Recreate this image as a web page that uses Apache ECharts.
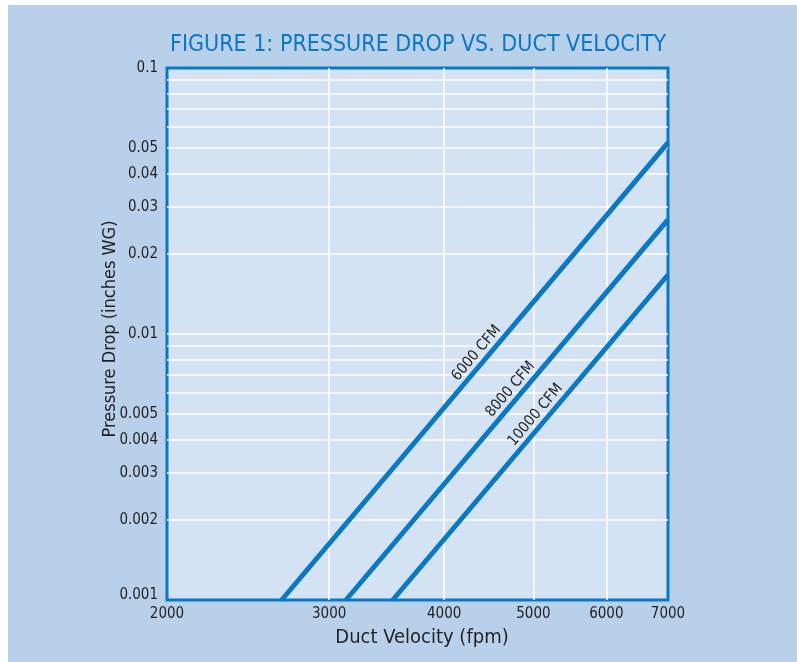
<!DOCTYPE html>
<html><head><meta charset="utf-8">
<script src="https://cdn.jsdelivr.net/npm/echarts@6/dist/echarts.min.js"></script>
<style>
html,body{margin:0;padding:0;background:#fff;}
#c{position:absolute;left:8px;top:5px;width:789px;height:657px;background:#b9d0ea;}
</style></head><body><div id="c"></div>
<script>
// ---- data ----
const titleText = 'FIGURE 1: PRESSURE DROP VS. DUCT VELOCITY';
const xAxisName = 'Duct Velocity (fpm)';
const yAxisName = 'Pressure Drop (inches WG)';
const seriesNames = ['6000 CFM', '8000 CFM', '10000 CFM'];
const velocity6000 = [2664, 7000];
const pressure6000 = [0.001, 0.0524];
const velocity8000 = [3129, 7000];
const pressure8000 = [0.001, 0.0269];
const velocity10000 = [3517, 7000];
const pressure10000 = [0.001, 0.0167];
const labelSpot = [0.525, 0.536, 0.548];   // where along each line its name sits (fraction)
const xTickLabels = [2000, 3000, 4000, 5000, 6000, 7000];
const xGridValues = [3000, 4000, 5000, 6000];
const yTickLabels = [0.001, 0.002, 0.003, 0.004, 0.005, 0.01, 0.02, 0.03, 0.04, 0.05, 0.1];
const yGridValues = [0.002, 0.003, 0.004, 0.005, 0.006, 0.007, 0.008, 0.009,
                     0.01, 0.02, 0.03, 0.04, 0.05, 0.06, 0.07, 0.08, 0.09];
const xRange = [2000, 7000];
const yRange = [0.001, 0.1];

// ---- build ----
const L = Math.log10;
const FONT = "'Liberation Sans Narrow', 'DejaVu Sans Condensed', 'Liberation Sans', sans-serif";
const BLUE = '#0a78c2';
const TXT = '#231f20';
const velocities = [velocity6000, velocity8000, velocity10000];
const pressures = [pressure6000, pressure8000, pressure10000];

const series = seriesNames.map((name, i) => {
  const pts = velocities[i].map((v, j) => [L(v), L(pressures[i][j])]);
  const a = pts[0], b = pts[pts.length - 1];
  const s = 2 * labelSpot[i] - 1;  // start of label segment so its middle is at labelSpot
  const segStart = [a[0] + (b[0] - a[0]) * s, a[1] + (b[1] - a[1]) * s];
  return {
    name: name,
    type: 'line',
    data: pts,
    symbol: 'none',
    silent: true,
    lineStyle: { color: BLUE, width: 5 },
    z: 5,
    markLine: {
      silent: true,
      symbol: 'none',
      lineStyle: { color: 'rgba(0,0,0,0)', width: 1 },
      label: {
        show: true, position: 'insideMiddleTop', formatter: name,
        color: TXT, fontFamily: FONT, fontSize: 15, distance: 3
      },
      data: [[{ coord: segStart }, { coord: b }]]
    }
  };
});

const chart = echarts.init(document.getElementById('c'));
chart.setOption({
  animation: false,
  backgroundColor: 'transparent',
  title: {
    text: titleText, left: 162, top: 29, padding: 0,
    textStyle: { color: BLUE, fontFamily: FONT, fontSize: 23, fontWeight: 'normal' }
  },
  grid: {
    left: 159, top: 63, width: 501, height: 532,
    show: true, backgroundColor: '#d3e3f3', borderColor: BLUE, borderWidth: 3,
    containLabel: false
  },
  xAxis: {
    type: 'value', min: L(xRange[0]), max: L(xRange[1]),
    name: xAxisName, nameLocation: 'middle', nameGap: 28, nameMoveOverlap: false,
    nameTextStyle: { color: TXT, fontFamily: FONT, fontSize: 20, padding: [0, 0, 0, 9] },
    axisLine: { show: false },
    axisTick: { show: false, customValues: xGridValues.map(L) },
    axisLabel: {
      customValues: xTickLabels.map(L), margin: 7,
      color: TXT, fontFamily: FONT, fontSize: 15,
      formatter: v => String(Math.round(Math.pow(10, v) / 100) * 100)
    },
    splitLine: { show: true, lineStyle: { color: '#ffffff', width: 1.5 } }
  },
  yAxis: {
    type: 'value', min: L(yRange[0]), max: L(yRange[1]),
    name: yAxisName, nameLocation: 'middle', nameGap: 48, nameRotate: 90, nameMoveOverlap: false,
    nameTextStyle: { color: TXT, fontFamily: FONT, fontSize: 18, padding: [0, 0, 0, 10] },
    axisLine: { show: false },
    axisTick: { show: false, customValues: yGridValues.map(L) },
    axisLabel: {
      customValues: yTickLabels.map(L), margin: 9,
      color: TXT, fontFamily: FONT, fontSize: 15,
      formatter: v => {
        const s = String(parseFloat(Math.pow(10, v).toPrecision(1)));
        return v <= L(yRange[0]) + 1e-9 ? '{low|' + s + '}' : s;
      },
      rich: { low: { color: TXT, fontFamily: FONT, fontSize: 15, padding: [0, 0, 10, 0] } }
    },
    splitLine: { show: true, lineStyle: { color: '#ffffff', width: 1.5 } }
  },
  series: series
});
</script></body></html>
